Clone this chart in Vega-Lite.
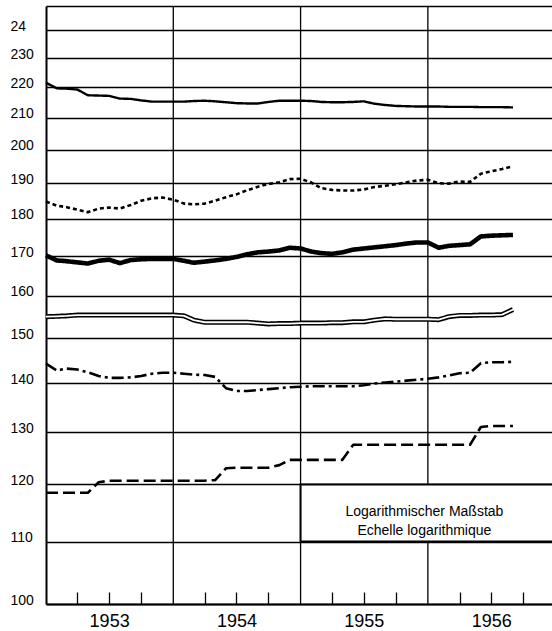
{
  "$schema": "https://vega.github.io/schema/vega-lite/v6.json",
  "width": 506,
  "height": 598,
  "autosize": {"type": "none"},
  "padding": {"left": 46, "top": 6, "right": 0, "bottom": 27},
  "background": "white",
  "config": {"view": {"stroke": null}, "font": "Liberation Sans"},
  "encoding": {
    "x": {"field": "date", "type": "temporal",
          "scale": {"type": "utc", "domain": [{"year": 1953, "month": 1, "date": 1, "utc": true}, {"year": 1956, "month": 12, "date": 22, "utc": true}]},
          "axis": {
            "title": null,
            "values": [
              {"year": 1953, "month": 4, "date": 1, "utc": true}, {"year": 1953, "month": 7, "date": 1, "utc": true}, {"year": 1953, "month": 10, "date": 1, "utc": true},
              {"year": 1954, "month": 4, "date": 1, "utc": true}, {"year": 1954, "month": 7, "date": 1, "utc": true}, {"year": 1954, "month": 10, "date": 1, "utc": true},
              {"year": 1955, "month": 4, "date": 1, "utc": true}, {"year": 1955, "month": 7, "date": 1, "utc": true}, {"year": 1955, "month": 10, "date": 1, "utc": true},
              {"year": 1956, "month": 4, "date": 1, "utc": true}, {"year": 1956, "month": 7, "date": 1, "utc": true}, {"year": 1956, "month": 10, "date": 1, "utc": true}
            ],
            "grid": false,
            "ticks": true, "tickSize": -12, "tickColor": "black", "tickWidth": 1.3,
            "domain": true, "domainColor": "black", "domainWidth": 2,
            "labelExpr": "utcmonth(datum.value) == 6 ? '' + utcyear(datum.value) : ''",
            "labelFont": "Liberation Sans", "labelFontSize": 18, "labelColor": "black",
            "labelPadding": 20, "labelBaseline": "top", "labelOverlap": false, "labelFlush": false
          }},
    "y": {"field": "value", "type": "quantitative",
          "scale": {"type": "log", "domain": [100, 249], "nice": false},
          "axis": {
            "title": null,
            "values": [100, 110, 120, 130, 140, 150, 160, 170, 180, 190, 200, 210, 220, 230, 240, 249],
            "grid": true, "gridColor": "black", "gridWidth": 1.3, "gridOpacity": 1,
            "ticks": false, "tickSize": 0,
            "domain": true, "domainColor": "black", "domainWidth": 2,
            "labelExpr": "datum.value > 245 ? '' : (datum.value == 240 ? '24' : format(datum.value, 'd'))",
            "labelFont": "Liberation Sans", "labelFontSize": 14, "labelColor": "black",
            "labelAlign": "left", "labelPadding": 36, "labelBaseline": "alphabetic",
            "labelOverlap": false, "labelFlush": false, "labelBound": false
          }}
  },
  "datasets": {
    "years": [{"date": "1954-01-01"}, {"date": "1955-01-01"}, {"date": "1956-01-01"}],
    "box": [{"from": "1955-01-01", "to": "1957-03-01", "low": 110, "high": 120}],
    "note": [{"date": "1955-12-22", "value": 115.1, "text": "Logarithmischer Maßstab\nEchelle logarithmique"}],
    "series": [
      {"date":"1953-01-01","series":"s1","value":221.5},{"date":"1953-02-01","series":"s1","value":219.6},{"date":"1953-03-01","series":"s1","value":219.5},{"date":"1953-04-01","series":"s1","value":219.2},{"date":"1953-05-01","series":"s1","value":217.3},{"date":"1953-06-01","series":"s1","value":217.2},{"date":"1953-07-01","series":"s1","value":217.1},{"date":"1953-08-01","series":"s1","value":216.2},{"date":"1953-09-01","series":"s1","value":216.1},{"date":"1953-10-01","series":"s1","value":215.6},{"date":"1953-11-01","series":"s1","value":215.2},{"date":"1953-12-01","series":"s1","value":215.2},
      {"date":"1954-01-01","series":"s1","value":215.2},{"date":"1954-02-01","series":"s1","value":215.2},{"date":"1954-03-01","series":"s1","value":215.4},{"date":"1954-04-01","series":"s1","value":215.5},{"date":"1954-05-01","series":"s1","value":215.3},{"date":"1954-06-01","series":"s1","value":215.0},{"date":"1954-07-01","series":"s1","value":214.7},{"date":"1954-08-01","series":"s1","value":214.6},{"date":"1954-09-01","series":"s1","value":214.6},{"date":"1954-10-01","series":"s1","value":215.1},{"date":"1954-11-01","series":"s1","value":215.5},{"date":"1954-12-01","series":"s1","value":215.5},
      {"date":"1955-01-01","series":"s1","value":215.5},{"date":"1955-02-01","series":"s1","value":215.4},{"date":"1955-03-01","series":"s1","value":215.1},{"date":"1955-04-01","series":"s1","value":215.0},{"date":"1955-05-01","series":"s1","value":215.0},{"date":"1955-06-01","series":"s1","value":215.1},{"date":"1955-07-01","series":"s1","value":215.3},{"date":"1955-08-01","series":"s1","value":214.5},{"date":"1955-09-01","series":"s1","value":214.1},{"date":"1955-10-01","series":"s1","value":213.8},{"date":"1955-11-01","series":"s1","value":213.7},{"date":"1955-12-01","series":"s1","value":213.6},
      {"date":"1956-01-01","series":"s1","value":213.6},{"date":"1956-02-01","series":"s1","value":213.6},{"date":"1956-03-01","series":"s1","value":213.5},{"date":"1956-04-01","series":"s1","value":213.5},{"date":"1956-05-01","series":"s1","value":213.5},{"date":"1956-06-01","series":"s1","value":213.4},{"date":"1956-07-01","series":"s1","value":213.4},{"date":"1956-08-01","series":"s1","value":213.4},{"date":"1956-09-01","series":"s1","value":213.3},

      {"date":"1953-01-01","series":"s2","value":184.8},{"date":"1953-02-01","series":"s2","value":183.6},{"date":"1953-03-01","series":"s2","value":183.2},{"date":"1953-04-01","series":"s2","value":182.5},{"date":"1953-05-01","series":"s2","value":181.8},{"date":"1953-06-01","series":"s2","value":182.8},{"date":"1953-07-01","series":"s2","value":183.1},{"date":"1953-08-01","series":"s2","value":182.8},{"date":"1953-09-01","series":"s2","value":183.8},{"date":"1953-10-01","series":"s2","value":185.0},{"date":"1953-11-01","series":"s2","value":185.7},{"date":"1953-12-01","series":"s2","value":185.9},
      {"date":"1954-01-01","series":"s2","value":185.3},{"date":"1954-02-01","series":"s2","value":184.2},{"date":"1954-03-01","series":"s2","value":184.0},{"date":"1954-04-01","series":"s2","value":184.2},{"date":"1954-05-01","series":"s2","value":185.0},{"date":"1954-06-01","series":"s2","value":186.0},{"date":"1954-07-01","series":"s2","value":186.8},{"date":"1954-08-01","series":"s2","value":188.0},{"date":"1954-09-01","series":"s2","value":189.0},{"date":"1954-10-01","series":"s2","value":189.8},{"date":"1954-11-01","series":"s2","value":190.3},{"date":"1954-12-01","series":"s2","value":191.2},
      {"date":"1955-01-01","series":"s2","value":191.3},{"date":"1955-02-01","series":"s2","value":190.2},{"date":"1955-03-01","series":"s2","value":188.6},{"date":"1955-04-01","series":"s2","value":188.1},{"date":"1955-05-01","series":"s2","value":187.9},{"date":"1955-06-01","series":"s2","value":187.9},{"date":"1955-07-01","series":"s2","value":188.2},{"date":"1955-08-01","series":"s2","value":188.9},{"date":"1955-09-01","series":"s2","value":189.3},{"date":"1955-10-01","series":"s2","value":189.7},{"date":"1955-11-01","series":"s2","value":190.3},{"date":"1955-12-01","series":"s2","value":190.8},
      {"date":"1956-01-01","series":"s2","value":191.0},{"date":"1956-02-01","series":"s2","value":190.0},{"date":"1956-03-01","series":"s2","value":189.9},{"date":"1956-04-01","series":"s2","value":190.5},{"date":"1956-05-01","series":"s2","value":190.4},{"date":"1956-06-01","series":"s2","value":192.8},{"date":"1956-07-01","series":"s2","value":193.5},{"date":"1956-08-01","series":"s2","value":194.2},{"date":"1956-09-01","series":"s2","value":195.0},

      {"date":"1953-01-01","series":"s3","value":170.2},{"date":"1953-02-01","series":"s3","value":168.9},{"date":"1953-03-01","series":"s3","value":168.7},{"date":"1953-04-01","series":"s3","value":168.4},{"date":"1953-05-01","series":"s3","value":168.1},{"date":"1953-06-01","series":"s3","value":168.8},{"date":"1953-07-01","series":"s3","value":169.1},{"date":"1953-08-01","series":"s3","value":168.2},{"date":"1953-09-01","series":"s3","value":169.0},{"date":"1953-10-01","series":"s3","value":169.2},{"date":"1953-11-01","series":"s3","value":169.3},{"date":"1953-12-01","series":"s3","value":169.3},
      {"date":"1954-01-01","series":"s3","value":169.3},{"date":"1954-02-01","series":"s3","value":168.8},{"date":"1954-03-01","series":"s3","value":168.3},{"date":"1954-04-01","series":"s3","value":168.6},{"date":"1954-05-01","series":"s3","value":168.9},{"date":"1954-06-01","series":"s3","value":169.3},{"date":"1954-07-01","series":"s3","value":169.8},{"date":"1954-08-01","series":"s3","value":170.5},{"date":"1954-09-01","series":"s3","value":171.0},{"date":"1954-10-01","series":"s3","value":171.2},{"date":"1954-11-01","series":"s3","value":171.5},{"date":"1954-12-01","series":"s3","value":172.2},
      {"date":"1955-01-01","series":"s3","value":172.0},{"date":"1955-02-01","series":"s3","value":171.2},{"date":"1955-03-01","series":"s3","value":170.8},{"date":"1955-04-01","series":"s3","value":170.6},{"date":"1955-05-01","series":"s3","value":171.0},{"date":"1955-06-01","series":"s3","value":171.7},{"date":"1955-07-01","series":"s3","value":172.0},{"date":"1955-08-01","series":"s3","value":172.3},{"date":"1955-09-01","series":"s3","value":172.6},{"date":"1955-10-01","series":"s3","value":172.9},{"date":"1955-11-01","series":"s3","value":173.3},{"date":"1955-12-01","series":"s3","value":173.6},
      {"date":"1956-01-01","series":"s3","value":173.6},{"date":"1956-02-01","series":"s3","value":172.2},{"date":"1956-03-01","series":"s3","value":172.7},{"date":"1956-04-01","series":"s3","value":172.9},{"date":"1956-05-01","series":"s3","value":173.1},{"date":"1956-06-01","series":"s3","value":175.2},{"date":"1956-07-01","series":"s3","value":175.4},{"date":"1956-08-01","series":"s3","value":175.5},{"date":"1956-09-01","series":"s3","value":175.6},

      {"date":"1953-01-01","series":"s4","value":155.0},{"date":"1953-02-01","series":"s4","value":155.1},{"date":"1953-03-01","series":"s4","value":155.2},{"date":"1953-04-01","series":"s4","value":155.4},{"date":"1953-05-01","series":"s4","value":155.4},{"date":"1953-06-01","series":"s4","value":155.4},{"date":"1953-07-01","series":"s4","value":155.4},{"date":"1953-08-01","series":"s4","value":155.4},{"date":"1953-09-01","series":"s4","value":155.4},{"date":"1953-10-01","series":"s4","value":155.4},{"date":"1953-11-01","series":"s4","value":155.4},{"date":"1953-12-01","series":"s4","value":155.4},
      {"date":"1954-01-01","series":"s4","value":155.4},{"date":"1954-02-01","series":"s4","value":155.2},{"date":"1954-03-01","series":"s4","value":154.2},{"date":"1954-04-01","series":"s4","value":153.7},{"date":"1954-05-01","series":"s4","value":153.7},{"date":"1954-06-01","series":"s4","value":153.7},{"date":"1954-07-01","series":"s4","value":153.7},{"date":"1954-08-01","series":"s4","value":153.7},{"date":"1954-09-01","series":"s4","value":153.5},{"date":"1954-10-01","series":"s4","value":153.3},{"date":"1954-11-01","series":"s4","value":153.4},{"date":"1954-12-01","series":"s4","value":153.4},
      {"date":"1955-01-01","series":"s4","value":153.5},{"date":"1955-02-01","series":"s4","value":153.5},{"date":"1955-03-01","series":"s4","value":153.5},{"date":"1955-04-01","series":"s4","value":153.6},{"date":"1955-05-01","series":"s4","value":153.6},{"date":"1955-06-01","series":"s4","value":153.8},{"date":"1955-07-01","series":"s4","value":153.8},{"date":"1955-08-01","series":"s4","value":154.2},{"date":"1955-09-01","series":"s4","value":154.5},{"date":"1955-10-01","series":"s4","value":154.4},{"date":"1955-11-01","series":"s4","value":154.4},{"date":"1955-12-01","series":"s4","value":154.4},
      {"date":"1956-01-01","series":"s4","value":154.4},{"date":"1956-02-01","series":"s4","value":154.3},{"date":"1956-03-01","series":"s4","value":155.0},{"date":"1956-04-01","series":"s4","value":155.3},{"date":"1956-05-01","series":"s4","value":155.3},{"date":"1956-06-01","series":"s4","value":155.4},{"date":"1956-07-01","series":"s4","value":155.4},{"date":"1956-08-01","series":"s4","value":155.5},{"date":"1956-09-01","series":"s4","value":156.7},

      {"date":"1953-01-01","series":"s5","value":144.3},{"date":"1953-02-01","series":"s5","value":142.8},{"date":"1953-03-01","series":"s5","value":143.2},{"date":"1953-04-01","series":"s5","value":143.0},{"date":"1953-05-01","series":"s5","value":142.4},{"date":"1953-06-01","series":"s5","value":141.6},{"date":"1953-07-01","series":"s5","value":141.2},{"date":"1953-08-01","series":"s5","value":141.2},{"date":"1953-09-01","series":"s5","value":141.3},{"date":"1953-10-01","series":"s5","value":141.6},{"date":"1953-11-01","series":"s5","value":142.1},{"date":"1953-12-01","series":"s5","value":142.3},
      {"date":"1954-01-01","series":"s5","value":142.3},{"date":"1954-02-01","series":"s5","value":142.1},{"date":"1954-03-01","series":"s5","value":141.9},{"date":"1954-04-01","series":"s5","value":141.8},{"date":"1954-05-01","series":"s5","value":141.4},{"date":"1954-06-01","series":"s5","value":139.0},{"date":"1954-07-01","series":"s5","value":138.4},{"date":"1954-08-01","series":"s5","value":138.4},{"date":"1954-09-01","series":"s5","value":138.6},{"date":"1954-10-01","series":"s5","value":138.8},{"date":"1954-11-01","series":"s5","value":139.0},{"date":"1954-12-01","series":"s5","value":139.2},
      {"date":"1955-01-01","series":"s5","value":139.3},{"date":"1955-02-01","series":"s5","value":139.4},{"date":"1955-03-01","series":"s5","value":139.4},{"date":"1955-04-01","series":"s5","value":139.4},{"date":"1955-05-01","series":"s5","value":139.4},{"date":"1955-06-01","series":"s5","value":139.4},{"date":"1955-07-01","series":"s5","value":139.6},{"date":"1955-08-01","series":"s5","value":140.0},{"date":"1955-09-01","series":"s5","value":140.2},{"date":"1955-10-01","series":"s5","value":140.4},{"date":"1955-11-01","series":"s5","value":140.6},{"date":"1955-12-01","series":"s5","value":140.8},
      {"date":"1956-01-01","series":"s5","value":141.0},{"date":"1956-02-01","series":"s5","value":141.3},{"date":"1956-03-01","series":"s5","value":141.7},{"date":"1956-04-01","series":"s5","value":142.2},{"date":"1956-05-01","series":"s5","value":142.3},{"date":"1956-06-01","series":"s5","value":144.4},{"date":"1956-07-01","series":"s5","value":144.6},{"date":"1956-08-01","series":"s5","value":144.6},{"date":"1956-09-01","series":"s5","value":144.7},

      {"date":"1953-01-01","series":"s6","value":118.5},{"date":"1953-02-01","series":"s6","value":118.5},{"date":"1953-03-01","series":"s6","value":118.5},{"date":"1953-04-01","series":"s6","value":118.5},{"date":"1953-05-01","series":"s6","value":118.5},{"date":"1953-06-01","series":"s6","value":120.4},{"date":"1953-07-01","series":"s6","value":120.7},{"date":"1953-08-01","series":"s6","value":120.7},{"date":"1953-09-01","series":"s6","value":120.7},{"date":"1953-10-01","series":"s6","value":120.7},{"date":"1953-11-01","series":"s6","value":120.7},{"date":"1953-12-01","series":"s6","value":120.7},
      {"date":"1954-01-01","series":"s6","value":120.7},{"date":"1954-02-01","series":"s6","value":120.7},{"date":"1954-03-01","series":"s6","value":120.7},{"date":"1954-04-01","series":"s6","value":120.7},{"date":"1954-05-01","series":"s6","value":120.8},{"date":"1954-06-01","series":"s6","value":123.0},{"date":"1954-07-01","series":"s6","value":123.1},{"date":"1954-08-01","series":"s6","value":123.1},{"date":"1954-09-01","series":"s6","value":123.1},{"date":"1954-10-01","series":"s6","value":123.1},{"date":"1954-11-01","series":"s6","value":123.6},{"date":"1954-12-01","series":"s6","value":124.6},
      {"date":"1955-01-01","series":"s6","value":124.6},{"date":"1955-02-01","series":"s6","value":124.6},{"date":"1955-03-01","series":"s6","value":124.6},{"date":"1955-04-01","series":"s6","value":124.6},{"date":"1955-05-01","series":"s6","value":124.6},{"date":"1955-06-01","series":"s6","value":127.5},{"date":"1955-07-01","series":"s6","value":127.5},{"date":"1955-08-01","series":"s6","value":127.5},{"date":"1955-09-01","series":"s6","value":127.5},{"date":"1955-10-01","series":"s6","value":127.5},{"date":"1955-11-01","series":"s6","value":127.5},{"date":"1955-12-01","series":"s6","value":127.5},
      {"date":"1956-01-01","series":"s6","value":127.5},{"date":"1956-02-01","series":"s6","value":127.5},{"date":"1956-03-01","series":"s6","value":127.5},{"date":"1956-04-01","series":"s6","value":127.5},{"date":"1956-05-01","series":"s6","value":127.5},{"date":"1956-06-01","series":"s6","value":131.0},{"date":"1956-07-01","series":"s6","value":131.2},{"date":"1956-08-01","series":"s6","value":131.2},{"date":"1956-09-01","series":"s6","value":131.2}
    ]
  },
  "layer": [
    {
      "data": {"name": "years"},
      "mark": {"type": "rule", "color": "black", "strokeWidth": 1.3},
      "encoding": {"y": null}
    },
    {
      "data": {"name": "box"},
      "mark": {"type": "rect", "fill": "white", "stroke": "black", "strokeWidth": 2, "clip": true},
      "encoding": {
        "x": {"field": "from", "type": "temporal"},
        "x2": {"field": "to"},
        "y": {"field": "low", "type": "quantitative"},
        "y2": {"field": "high"}
      }
    },
    {
      "data": {"name": "note"},
      "mark": {"type": "text", "lineBreak": "\n", "font": "Liberation Sans", "fontSize": 14, "lineHeight": 19, "align": "center", "baseline": "middle", "color": "black"},
      "encoding": {
        "text": {"field": "text"}
      }
    },
    {
      "data": {"name": "series"},
      "mark": {"type": "line", "color": "black", "strokeCap": "butt", "strokeJoin": "round"},
      "encoding": {
        "detail": {"field": "series"},
        "strokeDash": {"field": "series", "type": "nominal",
                       "scale": {"domain": ["s1", "s2", "s3", "s4", "s5", "s6"], "range": [[1, 0], [4, 3], [1, 0], [1, 0], [12, 4, 3, 4], [12, 5]]},
                       "legend": null},
        "strokeWidth": {"field": "series", "type": "nominal",
                        "scale": {"type": "ordinal", "domain": ["s1", "s2", "s3", "s4", "s5", "s6"], "range": [2.4, 2.6, 4.6, 5, 2.6, 2.6]},
                        "legend": null}
      }
    },
    {
      "data": {"name": "series"},
      "transform": [{"filter": "datum.series == 's4'"}],
      "mark": {"type": "line", "color": "white", "strokeWidth": 1.8, "strokeJoin": "round"},
      "encoding": {}
    }
  ]
}
